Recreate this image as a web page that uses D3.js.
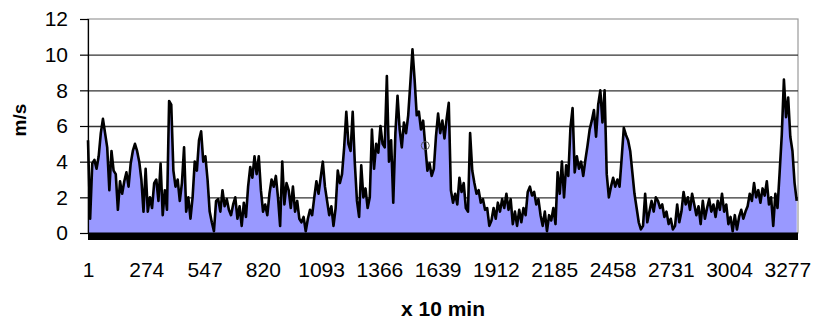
<!DOCTYPE html>
<html>
<head>
<meta charset="utf-8">
<script src="https://cdn.jsdelivr.net/npm/d3@7/dist/d3.min.js"></script>
<style>
  body { margin: 0; background: #fff; }
  text { font-family: "Liberation Sans", Arial, sans-serif; }
</style>
</head>
<body>
<script>
// Wind speed samples (m/s), read every 10th sample (x 10 min) off the picture
var sampleStep = 10;
var speedPart1 = [
  5.2, 0.8, 3.9, 4.1, 3.6, 4.3, 5.6, 6.4, 5.6, 4.8,
  2.4, 4.6, 3.5, 3.3, 1.3, 2.9, 2.2, 2.9, 3.4, 2.6,
  3.9, 4.6, 5.0, 4.6, 4.0, 3.0, 1.2, 3.6, 1.2, 2.0,
  1.4, 2.8, 3.0, 1.8, 3.9, 1.0, 2.4, 1.3, 7.4, 7.2,
  3.5, 2.6, 3.0, 1.8, 2.8, 4.8, 1.2, 2.0, 0.8, 2.0,
  4.0, 3.5, 5.2, 5.7, 4.0, 4.3, 3.0, 1.2, 0.6, 0.1,
  1.8, 1.9, 1.2, 2.4, 1.5, 1.9, 1.3
];
var speedPart2 = [
  1.0, 1.6, 2.0, 0.8, 1.5, 0.4, 1.7, 0.9, 2.6, 3.7,
  3.1, 4.3, 3.3, 4.3, 2.4, 1.2, 1.6, 1.0, 2.2, 3.0,
  2.6, 3.2, 2.0, 0.4, 4.0, 1.6, 2.8, 2.4, 1.4, 2.6,
  1.2, 1.8, 0.8, 0.6, 0.9, 0.1, 0.8, 1.3, 1.0, 2.0,
  2.9, 2.2, 3.1, 4.0, 2.6, 1.8, 1.0, 1.5, 0.4, 1.4,
  3.5, 2.8, 3.3, 4.8, 6.8, 5.0, 4.6, 6.8, 3.9, 1.8,
  0.9, 3.8, 2.0, 2.5, 1.4, 2.0, 5.8
];
var speedPart3 = [
  3.6, 5.0, 4.5, 6.0, 5.0, 4.8, 8.8, 4.0, 5.2, 1.7,
  5.6, 7.7, 5.8, 4.8, 6.2, 5.6, 6.6, 8.4, 10.3, 8.6,
  6.6, 6.8, 5.8, 6.3, 4.9, 3.5, 3.9, 3.2, 3.6, 5.4,
  6.7, 5.6, 6.3, 5.3, 6.4, 7.3, 2.4, 1.7, 2.2, 1.6,
  3.1, 2.3, 2.8, 1.4, 1.2, 5.6, 3.5, 2.8, 2.2, 2.4,
  1.7, 1.9, 1.3, 1.4, 0.4, 0.7, 1.4, 0.8, 1.7, 1.2,
  1.9, 1.4, 2.2, 1.3, 1.9, 0.5, 1.2
];
var speedPart4 = [
  0.4, 1.3, 0.6, 1.4, 1.0, 2.3, 2.6, 2.1, 2.3, 1.6,
  1.9, 1.0, 0.4, 1.2, 0.1, 1.0, 0.7, 1.4, 0.5, 3.4,
  2.2, 4.0, 2.0, 3.8, 3.2, 5.9, 7.0, 3.4, 4.3, 3.6,
  4.0, 3.2, 4.1, 4.9, 5.8, 6.3, 6.9, 5.4, 7.2, 8.0,
  6.2, 8.0, 3.3, 2.0, 2.6, 3.1, 2.6, 3.0, 2.6, 4.2,
  5.9, 5.5, 5.2, 4.6, 3.4, 2.2, 1.4, 0.6, 0.2, 0.4,
  2.2, 0.6, 1.2, 1.8, 1.2, 2.0
];
var speedPart5 = [
  1.8, 1.4, 1.6, 0.9, 1.2, 0.5, 0.8, 0.2, 0.4, 1.6,
  0.6, 1.2, 2.3, 1.6, 2.0, 1.3, 2.2, 1.6, 1.0, 1.5,
  0.5, 1.8, 0.8, 1.4, 1.9, 1.2, 1.6, 0.9, 1.8, 1.3,
  2.2, 1.2, 1.6, 0.5, 0.9, 0.1, 1.0, 0.2, 0.9, 1.3,
  0.8, 1.2, 1.5, 2.2, 1.8, 2.8, 2.0, 2.4, 1.7, 2.5,
  2.1, 2.9, 1.6, 2.0, 0.4, 2.2, 1.4, 3.4, 5.5, 8.6,
  6.5, 7.6, 5.4, 4.6, 2.8, 1.8
];

// Category labels on the x axis, and y ticks
var xTickLabels = [1, 274, 547, 820, 1093, 1366, 1639, 1912, 2185, 2458, 2731, 3004, 3277];
var yTicks = [0, 2, 4, 6, 8, 10, 12];
var lastSample = 3327;
var markedSample = 1581;

// Define SVG area dimensions
var svgWidth = 813;
var svgHeight = 320;

var margin = {
  top: 19,
  right: 15,
  bottom: 87,
  left: 88
};

var chartWidth = svgWidth - margin.left - margin.right;
var chartHeight = svgHeight - margin.top - margin.bottom;

var svg = d3.select("body")
  .append("svg")
  .attr("width", svgWidth)
  .attr("height", svgHeight);

var chartGroup = svg.append("g")
  .attr("transform", `translate(${margin.left}, ${margin.top})`);

// Join the parts into one series of {i, v}
var speeds = speedPart1.concat(speedPart2, speedPart3, speedPart4, speedPart5);
var data = speeds.map(function(v, k) {
  return { i: 1 + k * sampleStep, v: v };
});

var xScale = d3.scaleLinear()
  .domain([1, lastSample])
  .range([0, chartWidth]);

var yScale = d3.scaleLinear()
  .domain([0, 12])
  .range([chartHeight, 0]);

// Plot border (gray, top and right)
chartGroup.append("rect")
  .attr("x", 0)
  .attr("y", 0)
  .attr("width", chartWidth)
  .attr("height", chartHeight)
  .attr("fill", "none")
  .attr("stroke", "#9a9a9a")
  .attr("stroke-width", 1.2);

// Gridlines
chartGroup.append("g")
  .call(d3.axisLeft(yScale).tickValues(yTicks.slice(1, -1)).tickSize(-chartWidth).tickFormat(""))
  .call(g => g.select(".domain").remove())
  .selectAll("line")
  .attr("stroke", "#333")
  .attr("stroke-width", 1.4);

// Area under the wind speed
var drawArea = d3.area()
  .x(d => xScale(d.i))
  .y0(yScale(0))
  .y1(d => yScale(d.v));

chartGroup.append("path")
  .attr("d", drawArea(data))
  .attr("fill", "#9999ff");

var drawLine = d3.line()
  .x(d => xScale(d.i))
  .y(d => yScale(d.v));

chartGroup.append("path")
  .attr("d", drawLine(data))
  .attr("fill", "none")
  .attr("stroke", "#000")
  .attr("stroke-width", 2.6)
  .attr("stroke-linejoin", "round");

// Small hollow marker left on one point
var marked = data.find(d => d.i === markedSample);
chartGroup.append("circle")
  .attr("cx", xScale(marked.i))
  .attr("cy", yScale(marked.v))
  .attr("r", 4)
  .attr("fill", "none")
  .attr("stroke", "#555")
  .attr("stroke-width", 1);

// Thick black bar along zero
chartGroup.append("rect")
  .attr("x", xScale(1))
  .attr("y", yScale(0) - 0.5)
  .attr("width", xScale(lastSample) - xScale(1))
  .attr("height", 7.5)
  .attr("fill", "#000");

// Left axis
var leftAxis = d3.axisLeft(yScale).tickValues(yTicks).tickSize(8).tickPadding(12);
chartGroup.append("g")
  .call(leftAxis)
  .call(g => g.selectAll("text").attr("font-size", 21).attr("fill", "#000").style("font-family", "Liberation Sans, Arial, sans-serif"))
  .call(g => g.selectAll("line, path").attr("stroke", "#000").attr("stroke-width", 1.2));

// Bottom axis: labels only
var bottomAxis = d3.axisBottom(xScale).tickValues(xTickLabels).tickSize(0).tickPadding(29).tickFormat(d3.format("d"));
chartGroup.append("g")
  .attr("transform", "translate(0, " + chartHeight + ")")
  .call(bottomAxis)
  .call(g => g.select(".domain").remove())
  .call(g => g.selectAll("text").attr("font-size", 21).attr("fill", "#000").style("font-family", "Liberation Sans, Arial, sans-serif"));

// Axis titles
svg.append("text")
  .attr("text-anchor", "middle")
  .attr("x", margin.left + chartWidth / 2)
  .attr("y", 316)
  .attr("font-size", 21)
  .attr("font-weight", "bold")
  .text("x 10 min");

svg.append("text")
  .attr("text-anchor", "middle")
  .attr("transform", "translate(26, 120) rotate(-90)")
  .attr("font-size", 19)
  .attr("font-weight", "bold")
  .text("m/s");
</script>
</body>
</html>
